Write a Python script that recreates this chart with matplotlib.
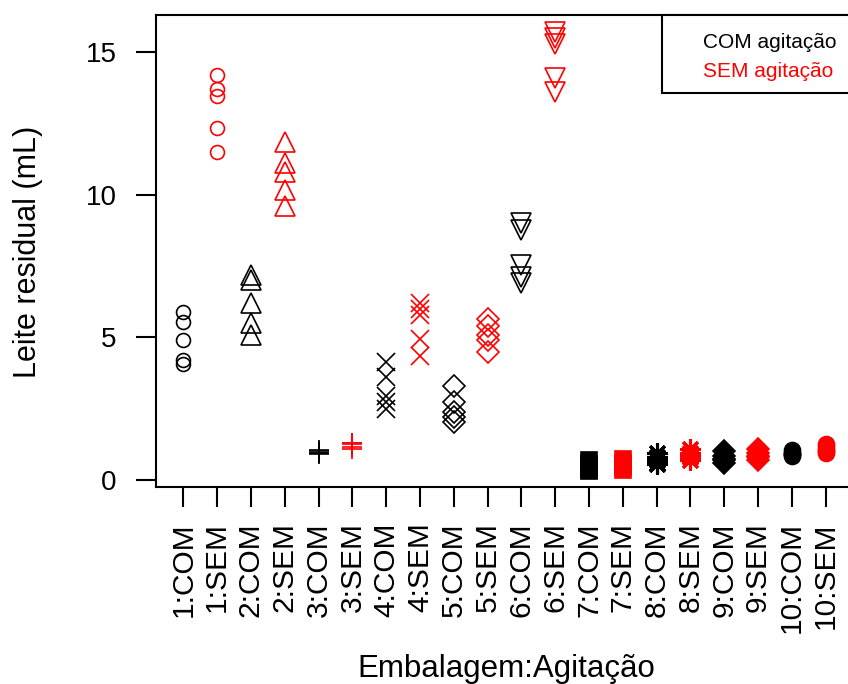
import matplotlib
matplotlib.use("Agg")
import matplotlib.pyplot as plt
from matplotlib.patches import Rectangle

plt.rcParams['font.family'] = ['Liberation Sans', 'DejaVu Sans']

groups = ['1:COM', '1:SEM', '2:COM', '2:SEM', '3:COM', '3:SEM', '4:COM', '4:SEM',
          '5:COM', '5:SEM', '6:COM', '6:SEM', '7:COM', '7:SEM', '8:COM', '8:SEM',
          '9:COM', '9:SEM', '10:COM', '10:SEM']

# leite residual (mL) per embalagem x agitacao
residual = [
    [5.9, 5.55, 4.9, 4.2, 4.05],        # 1:COM
    [14.2, 13.7, 13.45, 12.35, 11.5],   # 1:SEM
    [7.2, 7.0, 6.2, 5.5, 5.1],          # 2:COM
    [11.85, 11.1, 10.8, 10.15, 9.6],    # 2:SEM
    [1.05, 1.0, 0.95, 0.9, 0.95],       # 3:COM
    [1.3, 1.3, 1.1, 1.15, 1.25],        # 3:SEM
    [4.15, 3.6, 2.95, 2.75, 2.5],       # 4:COM
    [6.2, 6.0, 5.8, 4.95, 4.35],        # 4:SEM
    [3.3, 2.75, 2.4, 2.2, 2.05],        # 5:COM
    [5.65, 5.4, 5.1, 4.9, 4.5],         # 5:SEM
    [9.0, 8.75, 7.55, 7.1, 6.9],        # 6:COM
    [15.7, 15.5, 15.3, 14.1, 13.6],     # 6:SEM
    [0.7, 0.55, 0.45, 0.35, 0.3],       # 7:COM
    [0.75, 0.6, 0.5, 0.45, 0.35],       # 7:SEM
    [0.95, 0.8, 0.7, 0.6, 0.55],        # 8:COM
    [1.1, 0.95, 0.85, 0.8, 0.7],        # 8:SEM
    [1.0, 0.85, 0.75, 0.7, 0.6],        # 9:COM
    [1.1, 0.95, 0.85, 0.8, 0.7],        # 9:SEM
    [1.05, 0.95, 0.9, 0.9, 0.85],       # 10:COM
    [1.25, 1.15, 1.05, 1.0, 0.95],      # 10:SEM
]

legend_labels = ['COM agitação', 'SEM agitação']
legend_colors = ['black', 'red']

# one R-like symbol per embalagem: (marker, size, filled)
symbols = [
    ('o', 10, False),
    ('^', 14, False),
    ('+', 15, False),
    ('x', 12.5, False),
    ('D', 11, False),
    ('v', 14, False),
    ('s', 11, True),
    ((8, 2, 0), 15, False),
    ('D', 11, True),
    ('o', 11.5, True),
]

fig = plt.figure(figsize=(8.48, 6.84), dpi=100)
ax = fig.add_axes([156.3 / 848, 1 - 487 / 684, 696.4 / 848, 472 / 684])

for i, (name, vals) in enumerate(zip(groups, residual)):
    col = legend_colors[i % 2]
    marker, ms, filled = symbols[i // 2]
    ax.plot([i + 1] * len(vals), vals, linestyle='none', marker=marker,
            markersize=ms, markeredgecolor=col,
            markerfacecolor=col if filled else 'none',
            markeredgewidth=2.2 if marker == (8, 2, 0) else 1.2)

ax.set_xlim(0.2, 20.8)
ax.set_ylim(-0.245, 16.3)
ax.set_xticks(range(1, len(groups) + 1))
ax.set_xticklabels(groups, rotation=90)
ax.set_yticks([0, 5, 10, 15])
ax.tick_params(axis='both', length=14.4, width=1.5)
ax.tick_params(axis='y', pad=14, labelsize=20)
ax.tick_params(axis='x', pad=11, labelsize=21.5)
for sp in ax.spines.values():
    sp.set_linewidth(1.5)

fig.text(506 / 848, 1 - 677 / 684, 'Embalagem:Agitação', fontsize=22.5,
         ha='center', va='baseline')
fig.text(28 / 848, 1 - 252 / 684, 'Leite residual (mL)', fontsize=22,
         rotation=90, ha='center', va='center')

# legend box, R style, text only
ax.add_patch(Rectangle((0.7255, 0.8347), 0.2745, 0.1653, transform=ax.transAxes,
                       facecolor='white', edgecolor='black', linewidth=1.5,
                       zorder=3, clip_on=False))
for lab, col, yy in zip(legend_labels, legend_colors, [0.9407, 0.881]):
    ax.text(0.785, yy, lab, color=col, fontsize=15, ha='left', va='center',
            transform=ax.transAxes, zorder=4)

fig.savefig('out.png', dpi=100)
